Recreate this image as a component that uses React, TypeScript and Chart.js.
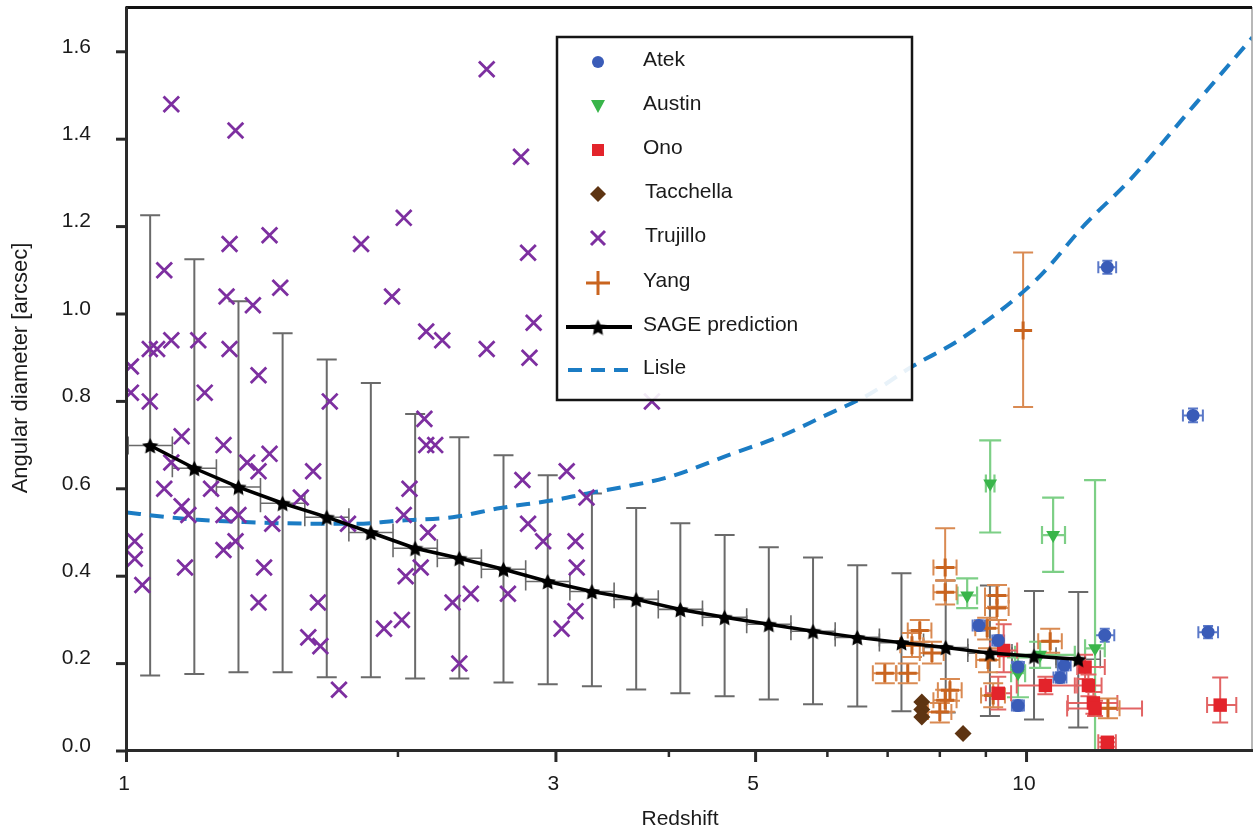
import React, { useEffect, useRef } from 'react';
import { Chart, registerables } from 'chart.js';

Chart.register(...registerables);

const FONT = '"Liberation Sans", Arial, Helvetica, sans-serif';

// ---- axes ----
const xMajorTicks = [1, 3, 5, 10];
const xMajorLabels = ['1', '3', '5', '10'];
const xMinorTicks = [2, 4, 6, 7, 8, 9];
const yTicks = [0, 0.2, 0.4, 0.6, 0.8, 1.0, 1.2, 1.4, 1.6];
const yTickLabels = ['0.0', '0.2', '0.4', '0.6', '0.8', '1.0', '1.2', '1.4', '1.6'];
const xTitle = 'Redshift';
const yTitle = 'Angular diameter [arcsec]';

// ---- SAGE prediction ----
const sageZ = [1.061, 1.188, 1.33, 1.489, 1.667, 1.866, 2.09, 2.34, 2.62, 2.934, 3.285, 3.679, 4.119, 4.613, 5.165, 5.784, 6.477, 7.252, 8.121, 9.094, 10.18, 11.4];
const sageD = [0.699, 0.647, 0.604, 0.567, 0.535, 0.5, 0.464, 0.441, 0.416, 0.388, 0.365, 0.347, 0.324, 0.306, 0.29, 0.274, 0.26, 0.248, 0.237, 0.224, 0.217, 0.21];
const sageHi = [1.226, 1.125, 1.029, 0.956, 0.896, 0.842, 0.771, 0.718, 0.677, 0.631, 0.589, 0.556, 0.521, 0.494, 0.466, 0.443, 0.425, 0.407, 0.39, 0.379, 0.366, 0.364];
const sageLo = [0.173, 0.176, 0.18, 0.18, 0.169, 0.169, 0.166, 0.166, 0.157, 0.153, 0.148, 0.141, 0.132, 0.125, 0.118, 0.107, 0.102, 0.091, 0.088, 0.08, 0.072, 0.054];
const sageZLo = [1.003, 1.123, 1.257, 1.407, 1.576, 1.764, 1.975, 2.212, 2.476, 2.773, 3.105, 3.477, 3.893, 4.359, 4.881, 5.466, 6.121, 6.854, 7.674, 8.594, 9.622, 10.77];
const sageZHi = [1.123, 1.257, 1.407, 1.576, 1.764, 1.975, 2.212, 2.476, 2.773, 3.105, 3.477, 3.893, 4.359, 4.881, 5.466, 6.121, 6.854, 7.674, 8.594, 9.622, 10.77, 12.06];

// ---- Lisle ----
const lisleZ = [1.0, 1.1, 1.2, 1.35, 1.5, 1.65, 1.8, 2.0, 2.3, 2.6, 3.0, 3.24, 3.6, 4.0, 4.7, 5.35, 5.9, 6.7, 7.4, 8.5, 10.26, 11.6, 13.0, 15.4, 17.8];
const lisleD = [0.546, 0.536, 0.529, 0.524, 0.521, 0.52, 0.52, 0.527, 0.535, 0.556, 0.575, 0.589, 0.606, 0.627, 0.68, 0.722, 0.763, 0.818, 0.876, 0.947, 1.08, 1.205, 1.306, 1.482, 1.633];

// ---- Trujillo ----
const trujilloZ = [1.12, 1.32, 2.51, 2.74, 2.03, 1.82, 1.3, 1.44, 2.79, 1.1, 1.48, 1.97, 1.29, 1.38, 2.83, 2.15, 2.24, 2.8, 2.51, 3.83,
  1.01, 1.01, 1.06, 1.08, 1.12, 1.06, 1.2, 1.3, 1.22, 1.4, 1.68, 2.14, 2.15, 2.2, 1.15, 1.28, 1.12, 1.1, 1.15, 1.17,
  1.24, 1.36, 1.44, 1.4, 1.61, 1.56, 1.28, 1.33, 1.45, 1.76, 2.06, 2.03, 2.16, 1.02, 1.02, 1.04, 1.16, 1.28, 1.32, 1.42,
  1.4, 1.63, 1.59, 1.64, 1.72, 1.93, 2.02, 2.04, 2.12, 2.3, 2.41, 2.34, 2.65, 2.75, 2.79, 2.9, 3.15, 3.08, 3.24, 3.04, 3.15, 3.16];
const trujilloD = [1.48, 1.42, 1.56, 1.36, 1.22, 1.16, 1.16, 1.18, 1.14, 1.1, 1.06, 1.04, 1.04, 1.02, 0.98, 0.96, 0.94, 0.9, 0.92, 0.8,
  0.88, 0.82, 0.92, 0.92, 0.94, 0.8, 0.94, 0.92, 0.82, 0.86, 0.8, 0.76, 0.7, 0.7, 0.72, 0.7, 0.66, 0.6, 0.56, 0.54,
  0.6, 0.66, 0.68, 0.64, 0.64, 0.58, 0.54, 0.54, 0.52, 0.52, 0.6, 0.54, 0.5, 0.48, 0.44, 0.38, 0.42, 0.46, 0.48, 0.42,
  0.34, 0.34, 0.26, 0.24, 0.14, 0.28, 0.3, 0.4, 0.42, 0.34, 0.36, 0.2, 0.36, 0.62, 0.52, 0.48, 0.48, 0.64, 0.58, 0.28, 0.32, 0.42];

// ---- Atek ----
const atekZ = [8.84, 9.29, 9.77, 9.77, 10.88, 11.0, 12.2, 12.28, 15.29, 15.89];
const atekD = [0.287, 0.253, 0.192, 0.104, 0.168, 0.196, 0.265, 1.107, 0.768, 0.272];
const atekLo = [0.275, 0.241, 0.18, 0.092, 0.156, 0.184, 0.25, 1.092, 0.752, 0.258];
const atekHi = [0.299, 0.265, 0.204, 0.116, 0.18, 0.208, 0.28, 1.122, 0.784, 0.286];
const atekZLo = [8.7, 9.15, 9.62, 9.62, 10.7, 10.82, 11.9, 12.0, 14.9, 15.5];
const atekZHi = [8.98, 9.43, 9.92, 9.92, 11.06, 11.18, 12.5, 12.56, 15.68, 16.3];

// ---- Austin ----
const austinZ = [8.58, 9.1, 9.77, 10.34, 10.69, 11.9];
const austinD = [0.356, 0.612, 0.178, 0.22, 0.494, 0.235];
const austinLo = [0.327, 0.5, 0.123, 0.19, 0.41, 0.0];
const austinHi = [0.395, 0.711, 0.214, 0.25, 0.58, 0.62];
const austinZLo = [8.37, 9.0, 9.6, 9.7, 10.39, 11.6];
const austinZHi = [8.8, 9.2, 9.95, 11.3, 11.02, 12.2];

// ---- Ono ----
const onoZ = [9.29, 9.42, 10.48, 11.6, 11.7, 11.85, 11.9, 12.28, 16.39];
const onoD = [0.132, 0.23, 0.15, 0.192, 0.15, 0.11, 0.097, 0.02, 0.105];
const onoLo = [0.095, 0.18, 0.13, 0.165, 0.125, 0.085, 0.08, 0.01, 0.065];
const onoHi = [0.17, 0.29, 0.17, 0.22, 0.175, 0.135, 0.115, 0.03, 0.168];
const onoZLo = [9.0, 9.1, 9.74, 11.37, 11.3, 11.1, 11.08, 12.0, 15.85];
const onoZHi = [9.6, 9.75, 11.37, 12.2, 12.1, 12.6, 13.42, 12.55, 17.08];

// ---- Tacchella ----
const tacchellaZ = [7.64, 7.64, 7.64, 8.49];
const tacchellaD = [0.112, 0.095, 0.078, 0.04];

// ---- Yang ----
const yangZ = [9.9, 8.11, 8.11, 9.26, 9.26, 7.6, 7.84, 7.45, 6.95, 7.37, 8.21, 8.11, 8.0, 9.03, 9.05, 9.17, 10.61, 12.3];
const yangD = [0.962, 0.42, 0.363, 0.356, 0.327, 0.276, 0.224, 0.242, 0.178, 0.178, 0.139, 0.116, 0.089, 0.281, 0.208, 0.127, 0.251, 0.098];
const yangLo = [0.787, 0.39, 0.335, 0.33, 0.3, 0.25, 0.2, 0.215, 0.155, 0.155, 0.115, 0.09, 0.065, 0.255, 0.18, 0.1, 0.225, 0.075];
const yangHi = [1.141, 0.51, 0.39, 0.38, 0.355, 0.3, 0.25, 0.27, 0.2, 0.2, 0.165, 0.14, 0.11, 0.305, 0.235, 0.155, 0.28, 0.12];
const yangZLo = [9.9, 7.87, 7.87, 8.98, 8.98, 7.37, 7.6, 7.23, 6.74, 7.15, 7.96, 7.87, 7.76, 8.76, 8.78, 8.89, 10.29, 11.93];
const yangZHi = [9.9, 8.35, 8.35, 9.54, 9.54, 7.83, 8.08, 7.67, 7.16, 7.59, 8.46, 8.35, 8.24, 9.3, 9.32, 9.45, 10.93, 12.67];

const legendLabels = ['Atek', 'Austin', 'Ono', 'Tacchella', 'Trujillo', 'Yang', 'SAGE prediction', 'Lisle'];

const C = {
  atek: '#3a5cb8',
  austin: '#39b54a',
  ono: '#e3242b',
  tacchella: '#5e3412',
  trujillo: '#7d2fa0',
  yang: '#c9641f',
  lisle: '#1b7cc4',
};

function pts(zs: number[], ds: number[]) {
  return zs.map((z, i) => ({ x: z, y: ds[i] }));
}

function makeStar(size: number, color: string) {
  const c = document.createElement('canvas');
  c.width = size;
  c.height = size;
  const g = c.getContext('2d')!;
  g.fillStyle = color;
  g.beginPath();
  const R = size / 2;
  const r = R * 0.5;
  for (let i = 0; i < 10; i++) {
    const a = -Math.PI / 2 + (i * Math.PI) / 5;
    const rad = i % 2 ? r : R;
    g.lineTo(R + rad * Math.cos(a), R + 1 + rad * Math.sin(a));
  }
  g.closePath();
  g.fill();
  return c;
}

const errorBarPlugin = {
  id: 'errorBars',
  beforeDatasetsDraw(chart: any) {
    const { ctx } = chart;
    const xs = chart.scales.x;
    const ys = chart.scales.y;
    const ca = chart.chartArea;
    ctx.save();
    ctx.beginPath();
    ctx.rect(ca.left, ca.top, ca.right - ca.left, ca.bottom - ca.top);
    ctx.clip();
    chart.data.datasets.forEach((ds: any) => {
      const e = ds.errors;
      if (!e) return;
      ctx.strokeStyle = e.color;
      ctx.lineWidth = e.width;
      ds.data.forEach((p: any, k: number) => {
        const px = xs.getPixelForValue(p.x);
        const py = ys.getPixelForValue(p.y);
        if (e.lo && e.hi) {
          const y1 = ys.getPixelForValue(e.lo[k]);
          const y2 = ys.getPixelForValue(e.hi[k]);
          if (Math.abs(y1 - y2) > 1) {
            ctx.beginPath();
            ctx.moveTo(px, y1);
            ctx.lineTo(px, y2);
            ctx.moveTo(px - e.cap, y1);
            ctx.lineTo(px + e.cap, y1);
            ctx.moveTo(px - e.cap, y2);
            ctx.lineTo(px + e.cap, y2);
            ctx.stroke();
          }
        }
        if (e.zlo && e.zhi) {
          const x1 = xs.getPixelForValue(e.zlo[k]);
          const x2 = xs.getPixelForValue(e.zhi[k]);
          if (Math.abs(x1 - x2) > 1) {
            ctx.lineWidth = e.hwidth || e.width;
            ctx.beginPath();
            ctx.moveTo(x1, py);
            ctx.lineTo(x2, py);
            ctx.moveTo(x1, py - e.hcap);
            ctx.lineTo(x1, py + e.hcap);
            ctx.moveTo(x2, py - e.hcap);
            ctx.lineTo(x2, py + e.hcap);
            ctx.stroke();
            ctx.lineWidth = e.width;
          }
        }
      });
    });
    ctx.restore();
  },
};

function drawLegend(ctx: CanvasRenderingContext2D, star: HTMLCanvasElement) {
  const L = { x: 557, y: 37, w: 355, h: 363 };
  ctx.save();
  ctx.fillStyle = 'rgba(255,255,255,0.9)';
  ctx.fillRect(L.x, L.y, L.w, L.h);
  ctx.strokeStyle = '#151515';
  ctx.lineWidth = 2.5;
  ctx.strokeRect(L.x, L.y, L.w, L.h);
  const mx = 598;
  const tx = 643;
  const rowY = [62, 106, 150, 194, 238, 283, 327, 370];
  ctx.font = '21px ' + FONT;
  ctx.textBaseline = 'middle';
  ctx.textAlign = 'left';
  legendLabels.forEach((lab, i) => {
    ctx.fillStyle = '#1a1a1a';
    ctx.fillText(lab, tx + (i === 3 || i === 4 ? 2 : 0), rowY[i] - 2);
  });
  let y = rowY[0];
  ctx.fillStyle = C.atek;
  ctx.beginPath();
  ctx.arc(mx, y, 6, 0, Math.PI * 2);
  ctx.fill();
  y = rowY[1];
  ctx.fillStyle = C.austin;
  ctx.beginPath();
  ctx.moveTo(mx - 7, y - 6);
  ctx.lineTo(mx + 7, y - 6);
  ctx.lineTo(mx, y + 7);
  ctx.closePath();
  ctx.fill();
  y = rowY[2];
  ctx.fillStyle = C.ono;
  ctx.fillRect(mx - 6, y - 6, 12, 12);
  y = rowY[3];
  ctx.fillStyle = C.tacchella;
  ctx.beginPath();
  ctx.moveTo(mx, y - 8);
  ctx.lineTo(mx + 8, y);
  ctx.lineTo(mx, y + 8);
  ctx.lineTo(mx - 8, y);
  ctx.closePath();
  ctx.fill();
  y = rowY[4];
  ctx.strokeStyle = C.trujillo;
  ctx.lineWidth = 3;
  ctx.beginPath();
  ctx.moveTo(mx - 7, y - 7);
  ctx.lineTo(mx + 7, y + 7);
  ctx.moveTo(mx + 7, y - 7);
  ctx.lineTo(mx - 7, y + 7);
  ctx.stroke();
  y = rowY[5];
  ctx.strokeStyle = C.yang;
  ctx.lineWidth = 3;
  ctx.beginPath();
  ctx.moveTo(mx - 12, y);
  ctx.lineTo(mx + 12, y);
  ctx.moveTo(mx, y - 12);
  ctx.lineTo(mx, y + 12);
  ctx.stroke();
  y = rowY[6];
  ctx.strokeStyle = '#000';
  ctx.lineWidth = 4;
  ctx.beginPath();
  ctx.moveTo(566, y);
  ctx.lineTo(632, y);
  ctx.stroke();
  ctx.drawImage(star, mx - star.width / 2, y - star.height / 2);
  y = rowY[7];
  ctx.strokeStyle = C.lisle;
  ctx.lineWidth = 4;
  ctx.setLineDash([14, 9]);
  ctx.beginPath();
  ctx.moveTo(568, y);
  ctx.lineTo(630, y);
  ctx.stroke();
  ctx.restore();
}

function makeFramePlugin(star: HTMLCanvasElement) {
  return {
    id: 'frame',
    afterDraw(chart: any) {
      const { ctx } = chart;
      const xs = chart.scales.x;
      const ys = chart.scales.y;
      const ca = chart.chartArea;
      ctx.save();
      // right border
      ctx.strokeStyle = '#a0a0a0';
      ctx.lineWidth = 1.5;
      ctx.beginPath();
      ctx.moveTo(ca.right, ca.top);
      ctx.lineTo(ca.right, ca.bottom);
      ctx.stroke();
      // top border
      ctx.strokeStyle = '#111';
      ctx.lineWidth = 3;
      ctx.beginPath();
      ctx.moveTo(ca.left - 1.5, ca.top + 0.5);
      ctx.lineTo(ca.right, ca.top + 0.5);
      ctx.stroke();
      // axes
      ctx.strokeStyle = '#2a2a2a';
      ctx.lineWidth = 3;
      ctx.beginPath();
      ctx.moveTo(ca.left - 0.5, ca.top);
      ctx.lineTo(ca.left - 0.5, ca.bottom);
      ctx.moveTo(ca.left - 2, ca.bottom - 0.5);
      ctx.lineTo(ca.right + 1, ca.bottom - 0.5);
      ctx.stroke();
      // y ticks + labels
      ctx.fillStyle = '#1a1a1a';
      ctx.font = '21px ' + FONT;
      ctx.textAlign = 'right';
      ctx.textBaseline = 'middle';
      yTicks.forEach((v, i) => {
        const py = ys.getPixelForValue(v);
        ctx.beginPath();
        ctx.moveTo(ca.left - 11, py);
        ctx.lineTo(ca.left, py);
        ctx.stroke();
        ctx.fillText(yTickLabels[i], 91, py - 5);
      });
      // x ticks + labels
      ctx.textAlign = 'center';
      xMajorTicks.forEach((v, i) => {
        const px = xs.getPixelForValue(v);
        ctx.beginPath();
        ctx.moveTo(px - 0.5, ca.bottom);
        ctx.lineTo(px - 0.5, ca.bottom + 11);
        ctx.stroke();
        ctx.fillText(xMajorLabels[i], px - 3, 784);
      });
      ctx.lineWidth = 2.5;
      xMinorTicks.forEach((v) => {
        const px = xs.getPixelForValue(v);
        ctx.beginPath();
        ctx.moveTo(px, ca.bottom);
        ctx.lineTo(px, ca.bottom + 6);
        ctx.stroke();
      });
      // titles
      ctx.fillText(xTitle, 680, 819);
      ctx.save();
      ctx.translate(21, 368);
      ctx.rotate(-Math.PI / 2);
      ctx.font = '22px ' + FONT;
      ctx.fillText(yTitle, 0, 0);
      ctx.restore();
      ctx.restore();
      drawLegend(ctx, star);
    },
  };
}

export default function App() {
  const ref = useRef<HTMLCanvasElement>(null);
  useEffect(() => {
    const canvas = ref.current!;
    const star = makeStar(17, '#000');
    const chart = new Chart(canvas, {
      type: 'scatter',
      data: {
        datasets: [
          {
            label: 'SAGE prediction',
            data: pts(sageZ, sageD),
            showLine: true,
            borderColor: '#000',
            backgroundColor: '#000',
            borderWidth: 3.5,
            pointStyle: star as any,
            pointRadius: 7,
            tension: 0,
            errors: { lo: sageLo, hi: sageHi, zlo: sageZLo, zhi: sageZHi, color: '#6a6a6a', width: 2, cap: 10, hcap: 9, hwidth: 1.6 },
          } as any,
          {
            label: 'Atek',
            data: pts(atekZ, atekD),
            pointStyle: 'circle',
            pointRadius: 6.5,
            backgroundColor: C.atek,
            borderColor: C.atek,
            borderWidth: 0,
            errors: { lo: atekLo, hi: atekHi, zlo: atekZLo, zhi: atekZHi, color: '#5a78c8', width: 2, cap: 5, hcap: 6 },
          } as any,
          {
            label: 'Austin',
            data: pts(austinZ, austinD),
            pointStyle: 'triangle',
            rotation: 180,
            pointRadius: 8,
            backgroundColor: C.austin,
            borderColor: C.austin,
            borderWidth: 0,
            errors: { lo: austinLo, hi: austinHi, zlo: austinZLo, zhi: austinZHi, color: '#7dcf86', width: 2.2, cap: 11, hcap: 9 },
          } as any,
          {
            label: 'Ono',
            data: pts(onoZ, onoD),
            pointStyle: 'rect',
            pointRadius: 9.5,
            backgroundColor: C.ono,
            borderColor: C.ono,
            borderWidth: 0,
            errors: { lo: onoLo, hi: onoHi, zlo: onoZLo, zhi: onoZHi, color: '#e26464', width: 2, cap: 8, hcap: 8 },
          } as any,
          {
            label: 'Tacchella',
            data: pts(tacchellaZ, tacchellaD),
            pointStyle: 'rectRot',
            pointRadius: 8.5,
            backgroundColor: C.tacchella,
            borderColor: C.tacchella,
            borderWidth: 0,
          },
          {
            label: 'Yang',
            data: pts(yangZ, yangD),
            pointStyle: 'cross',
            pointRadius: 9,
            backgroundColor: C.yang,
            borderColor: C.yang,
            borderWidth: 3,
            errors: { lo: yangLo, hi: yangHi, zlo: yangZLo, zhi: yangZHi, color: '#d98a52', width: 2, cap: 10, hcap: 8 },
          } as any,
          {
            label: 'Trujillo',
            data: pts(trujilloZ, trujilloD),
            pointStyle: 'crossRot',
            pointRadius: 11,
            backgroundColor: C.trujillo,
            borderColor: C.trujillo,
            borderWidth: 2.8,
          },
          {
            label: 'Lisle',
            data: pts(lisleZ, lisleD),
            showLine: true,
            borderColor: C.lisle,
            borderWidth: 4,
            borderDash: [14, 9],
            pointRadius: 0,
            cubicInterpolationMode: 'monotone',
          } as any,
        ],
      },
      options: {
        responsive: false,
        animation: false,
        events: [],
        layout: { autoPadding: false, padding: { top: 7, right: 3, left: 0, bottom: 0 } },
        plugins: { legend: { display: false }, tooltip: { enabled: false } },
        scales: {
          x: {
            type: 'logarithmic',
            min: 1,
            max: 17.78,
            afterBuildTicks: (s: any) => {
              s.ticks = xMajorTicks.map((v) => ({ value: v }));
            },
            afterFit: (s: any) => {
              s.height = 79;
            },
            grid: { display: false },
            border: { display: false },
            ticks: { display: false },
          },
          y: {
            type: 'linear',
            min: 0,
            max: 1.7025,
            afterBuildTicks: (s: any) => {
              s.ticks = yTicks.map((v) => ({ value: v }));
            },
            afterFit: (s: any) => {
              s.width = 127;
            },
            grid: { display: false },
            border: { display: false },
            ticks: { display: false },
          },
        },
      },
      plugins: [errorBarPlugin, makeFramePlugin(star)],
    } as any);
    return () => chart.destroy();
  }, []);
  return (
    <div style={{ position: 'fixed', left: 0, top: 0, width: 1255, height: 830, background: '#fff' }}>
      <canvas ref={ref} width={1255} height={830} style={{ display: 'block' }} />
    </div>
  );
}
